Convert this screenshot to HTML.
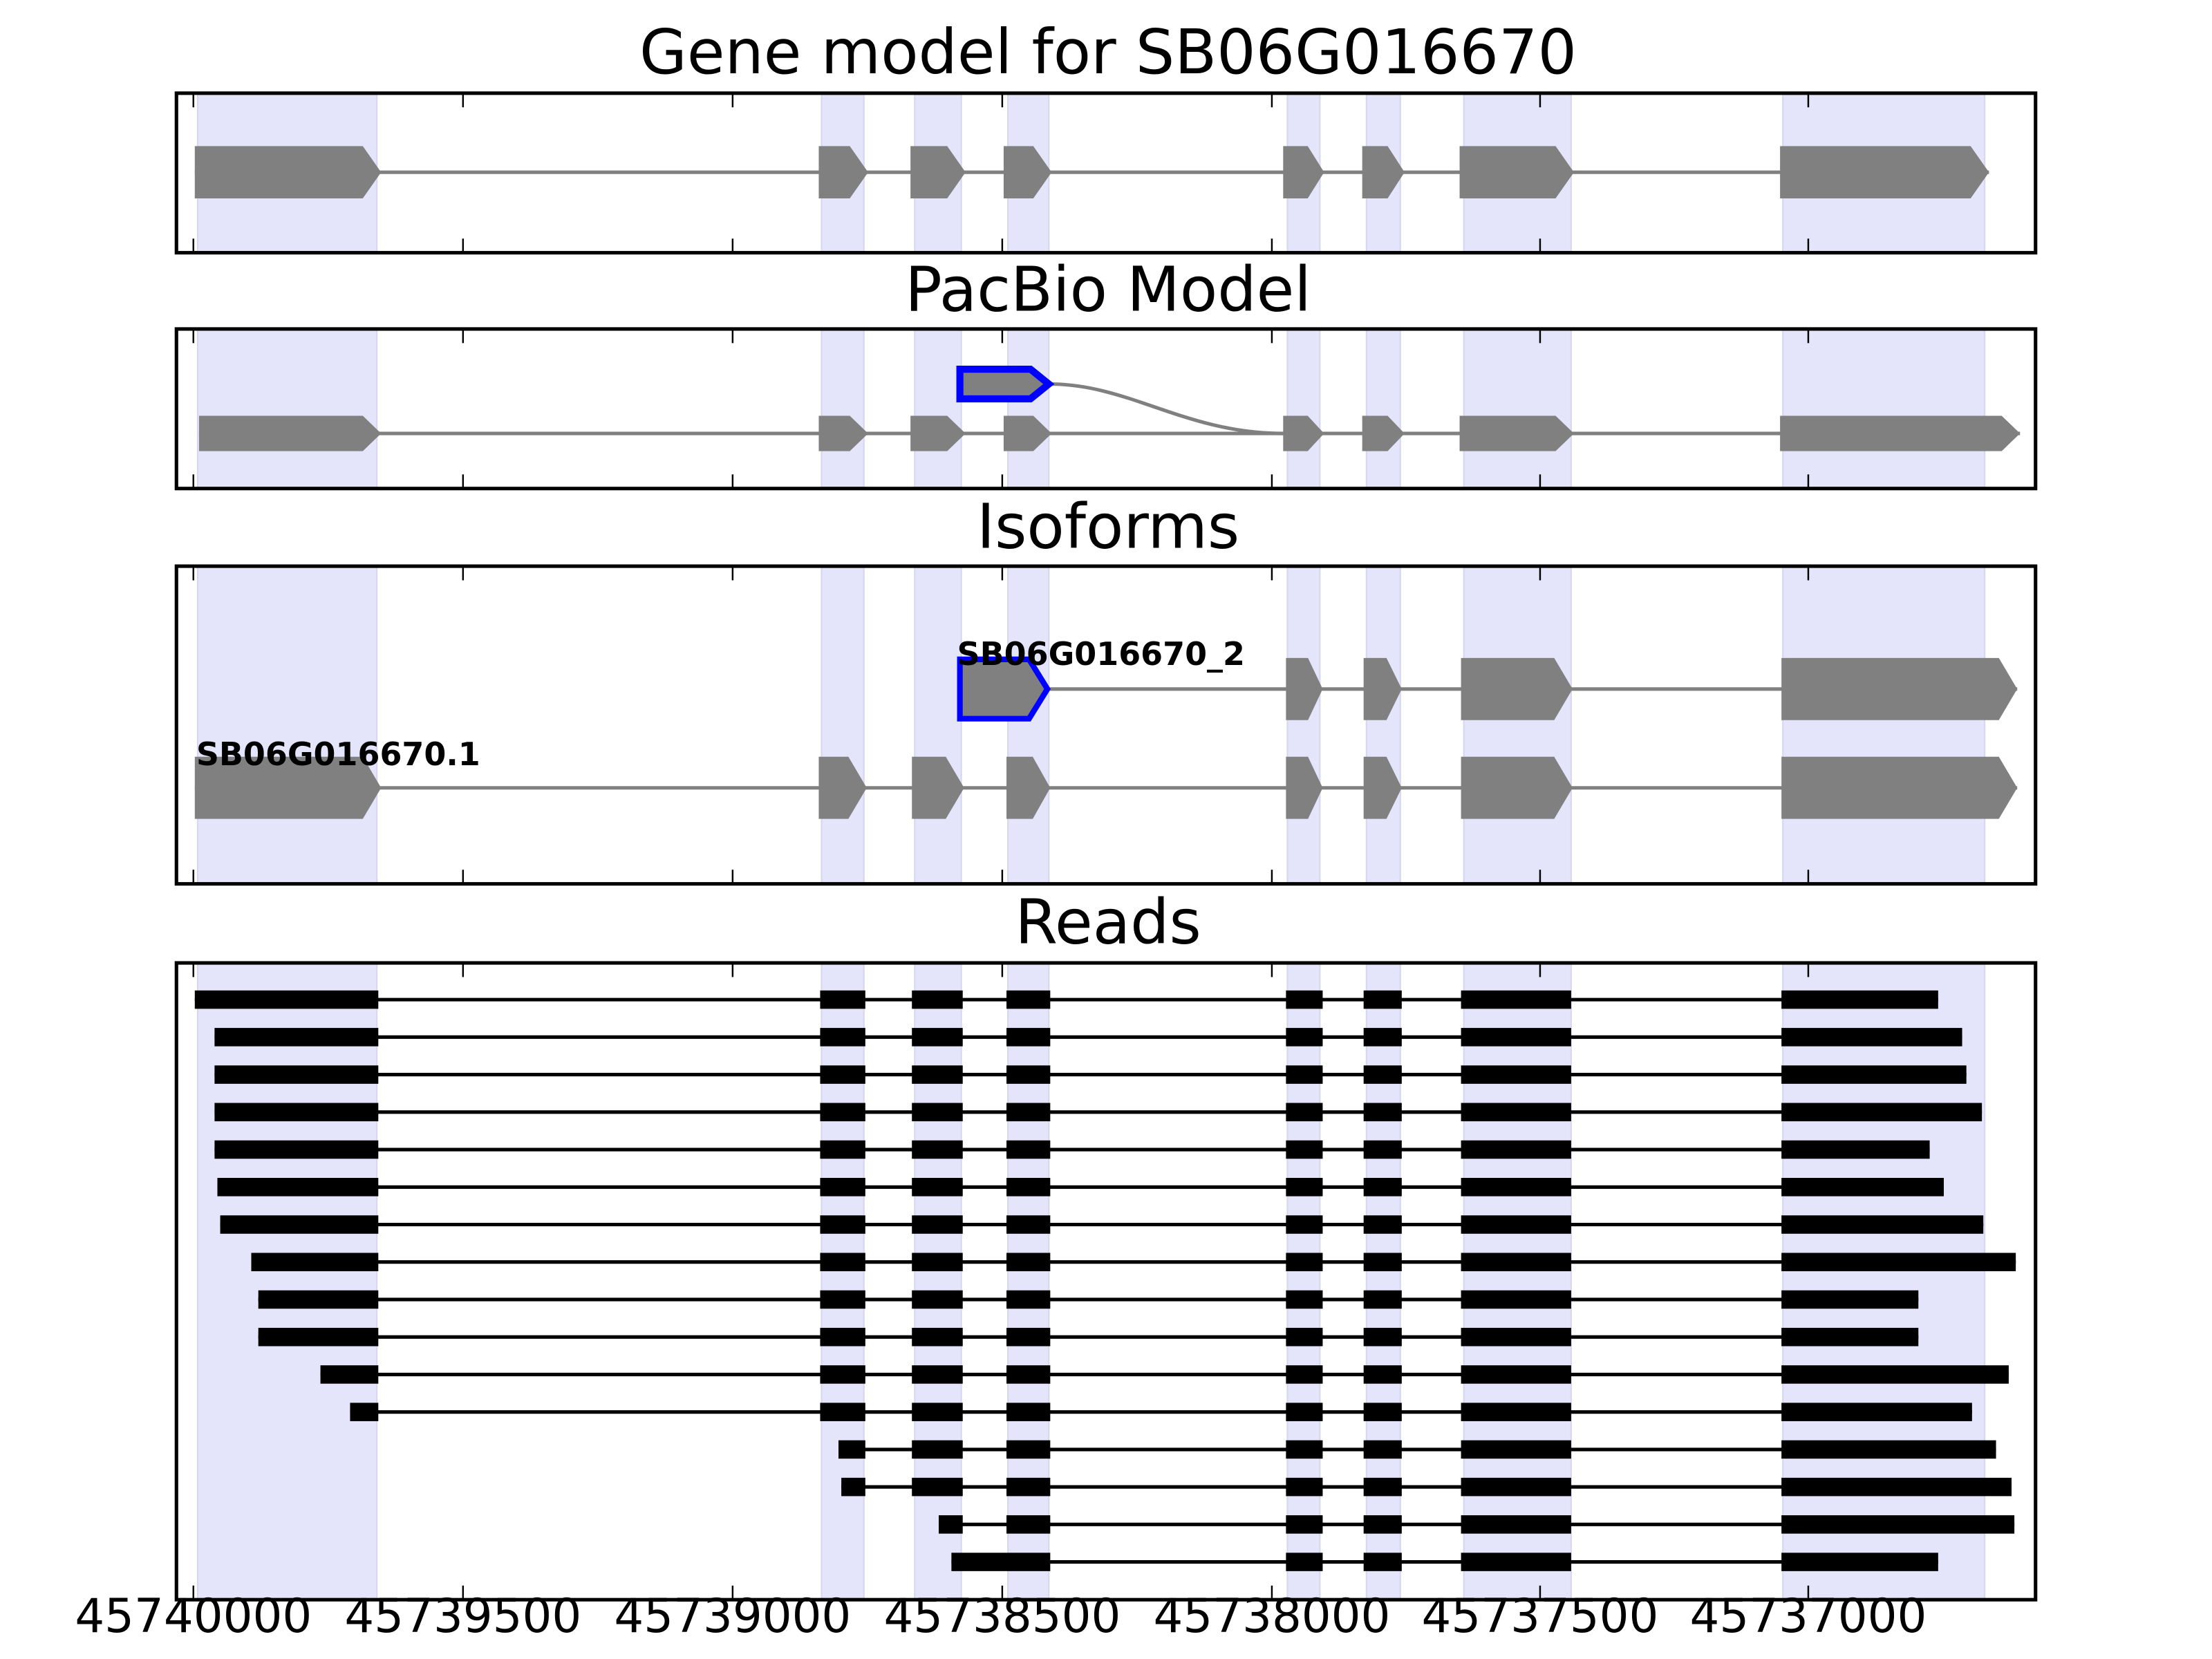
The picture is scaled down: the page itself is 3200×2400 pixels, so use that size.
<!DOCTYPE html>
<html><head><meta charset="utf-8"><style>html,body{margin:0;padding:0;background:#fff}svg{display:block}</style></head>
<body>
<svg width="3200" height="2400" viewBox="0 0 1567 1175" preserveAspectRatio="none" xmlns="http://www.w3.org/2000/svg" font-family="DejaVu Sans, Liberation Sans, sans-serif">
<rect width="1567" height="1175" fill="#fff"/>
<g id="all"></g>
<script>
const NS="http://www.w3.org/2000/svg";
const root=document.getElementById('all');
function el(t,a,p){const e=document.createElementNS(NS,t);for(const k in a)e.setAttribute(k,a[k]);(p||root).appendChild(e);return e;}
const shades=[[140,267],[582,612],[648,681],[714,743],[912,935],[968,992],[1037,1113],[1263,1406]];
const panels=[[66,179,"Gene model for SB06G016670",52],[233,346,"PacBio Model",220],[401,626,"Isoforms",388],[682,1133,"Reads",668]];
const ticks=[137,328,519,710,901,1091,1281];
panels.forEach(p=>{
  const [t,b,title,ty]=p;
  shades.forEach(s=>el('rect',{x:s[0],y:t,width:s[1]-s[0],height:b-t,fill:'#e4e4fb',stroke:'#d6d6ee','stroke-width':1}));
  const tt=el('text',{x:785,y:ty,'font-size':43.5,'text-anchor':'middle',fill:'#000'});tt.textContent=title;
});
function exon(x1,x2,yc,h,opt){
  opt=opt||{};const tip=Math.min(13,(x2-x1)*0.4);
  const pts=`${x1},${yc-h/2} ${x2-tip},${yc-h/2} ${x2},${yc} ${x2-tip},${yc+h/2} ${x1},${yc+h/2}`;
  el('polygon',{points:pts,fill:'#808080',stroke:opt.stroke||'none','stroke-width':opt.sw||0,'stroke-linejoin':'miter'});
}
function line(x1,x2,y,c,w){el('line',{x1:x1,x2:x2,y1:y,y2:y,stroke:c||'#808080','stroke-width':w||2.5});}
const g1=[[138,270],[580,615],[645,684],[711,745],[909,938],[965,995],[1034,1115],[1261,1409]];
line(138,1409,122);g1.forEach(e=>exon(e[0],e[1],122,37));
const g2=[[141,270],[580,615],[645,684],[711,745],[909,938],[965,995],[1034,1115],[1261,1431]];
line(141,1431,307);g2.forEach(e=>exon(e[0],e[1],307,25));
el('path',{d:'M744,272 C800,272 840,307 909,307',fill:'none',stroke:'#808080','stroke-width':2.5});
exon(680,743,272,21,{stroke:'#0000ff',sw:5});
const r1=[[138,270],[580,614],[646,683],[713,744],[911,937],[966,993],[1035,1114],[1262,1429]];
line(138,1429,558);r1.forEach(e=>exon(e[0],e[1],558,44));
line(743,1429,488);
exon(680,742,488,42,{stroke:'#0000ff',sw:4});
[[911,937],[966,993],[1035,1114],[1262,1429]].forEach(e=>exon(e[0],e[1],488,44));
let l=el('text',{x:139,y:542,'font-size':22.5,'font-weight':'bold'});l.textContent='SB06G016670.1';
l=el('text',{x:678,y:471,'font-size':22.5,'font-weight':'bold'});l.textContent='SB06G016670_2';
const std=[[581,613],[646,682],[713,744],[911,937],[966,993],[1035,1113]];
const reads=[[138,1373],[152,1390],[152,1393],[152,1404],[152,1367],[154,1377],[156,1405],[178,1428],[183,1359],[183,1359],[227,1423],[248,1397]];
const ys=[];for(let i=0;i<16;i++)ys.push(708+i*26.55);
function read(y,blocks){
  line(blocks[0][0],blocks[blocks.length-1][1],y,'#000',2.5);
  blocks.forEach(b=>el('rect',{x:b[0],y:y-6.5,width:b[1]-b[0],height:13,fill:'#000'}));
}
reads.forEach((r,i)=>read(ys[i],[[r[0],268],...std,[1262,r[1]]]));
read(ys[12],[[594,613],...std.slice(1),[1262,1414]]);
read(ys[13],[[596,613],...std.slice(1),[1262,1425]]);
read(ys[14],[[665,682],...std.slice(2),[1262,1427]]);
read(ys[15],[[674,744],...std.slice(3),[1262,1373]]);
panels.forEach(p=>{
  const [t,b]=p;
  el('rect',{x:125,y:t,width:1317,height:b-t,fill:'none',stroke:'#000','stroke-width':2.5});
  ticks.forEach(x=>{el('line',{x1:x,x2:x,y1:t,y2:t+10,stroke:'#000','stroke-width':1.2});el('line',{x1:x,x2:x,y1:b,y2:b-10,stroke:'#000','stroke-width':1.2});});
});
const labs=['45740000','45739500','45739000','45738500','45738000','45737500','45737000'];
ticks.forEach((x,i)=>{const t=el('text',{x:x,y:1156,'font-size':33,'text-anchor':'middle'});t.textContent=labs[i];});
</script>
</svg>
</body></html>
